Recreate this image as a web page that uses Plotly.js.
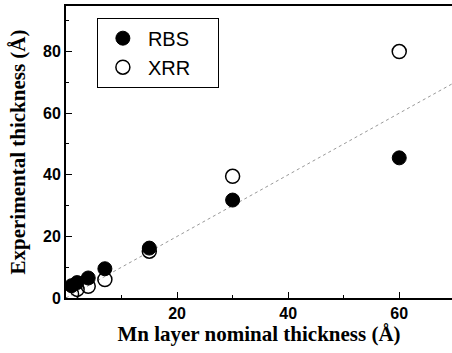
<!DOCTYPE html>
<html>
<head>
<meta charset="utf-8">
<script src="https://cdn.plot.ly/plotly-3.0.1.min.js"></script>
<style>
html, body { margin: 0; padding: 0; background: #fff; overflow: hidden; }
#chart { width: 452px; height: 353px; }
</style>
</head>
<body>
<div id="chart"></div>
<script>
// Data
const nominal = [1, 2, 4, 7, 15, 30, 60];
const rbs = [4.0, 5.0, 6.5, 9.5, 16.2, 31.8, 45.5];
const xrr = [1.3, 2.8, 3.8, 6.0, 15.2, 39.5, 80.0];
const guideX = [0, 70];
const guideY = [0, 70];
const seriesNames = ['RBS', 'XRR'];

const traces = [
  {
    x: guideX, y: guideY, mode: 'lines', showlegend: false,
    line: { color: '#999', width: 1, dash: 'dot' }, hoverinfo: 'skip'
  },
  {
    x: nominal, y: rbs, mode: 'markers', name: seriesNames[0] + '\u00a0\u00a0\u00a0\u00a0', legendgroup: 'a',
    marker: { symbol: 'circle', size: 14, color: '#000', line: { color: '#000', width: 1 } }
  },
  {
    x: nominal, y: xrr, mode: 'markers', name: seriesNames[1] + '\u00a0\u00a0\u00a0\u00a0', legendgroup: 'b',
    marker: { symbol: 'circle-open', size: 14, color: '#000', line: { color: '#000', width: 1.5 } }
  }
];

const tickFont = { family: 'Liberation Sans, Arial, sans-serif', size: 16, color: '#000', weight: 'bold' };
const titleFont = { family: 'Liberation Serif, Times New Roman, serif', size: 21, color: '#000', weight: 'bold' };

const layout = {
  width: 452, height: 353,
  margin: { l: 66, r: 0, t: 6, b: 55 },
  paper_bgcolor: '#fff', plot_bgcolor: '#fff',
  showlegend: true,
  legend: {
    x: 0.08, y: 0.96, xanchor: 'left', yanchor: 'top',
    bordercolor: '#000', borderwidth: 1, bgcolor: '#fff',
    font: { family: 'Liberation Sans, Arial, sans-serif', size: 20, color: '#000' },
    itemwidth: 40, tracegroupgap: 0
  },
  xaxis: {
    range: [0, 69.5], showgrid: false, zeroline: false,
    showline: true, linecolor: '#000', linewidth: 2, mirror: true,
    ticks: 'inside', ticklen: 6, tickwidth: 1, tickcolor: '#000',
    tickvals: [20, 40, 60], ticktext: ['20', '40', '60'],
    minor: { tickvals: [10, 30, 50], ticks: 'inside', ticklen: 3, tickcolor: '#000' },
    tickfont: tickFont,
    title: { text: 'Mn layer nominal thickness (Å)', font: titleFont, standoff: 3 }
  },
  yaxis: {
    range: [0, 94.8], showgrid: false, zeroline: false,
    showline: true, linecolor: '#000', linewidth: 2, mirror: false,
    ticks: 'inside', ticklen: 6, tickwidth: 1, tickcolor: '#000',
    tickvals: [0, 20, 40, 60, 80], ticktext: ['0', '20', '40', '60', '80'],
    minor: { tickvals: [10, 30, 50, 70, 90], ticks: 'inside', ticklen: 3, tickcolor: '#000' },
    tickfont: tickFont,
    title: { text: 'Experimental thickness (Å)', font: titleFont, standoff: 12 }
  }
};

Plotly.newPlot('chart', traces, layout, { displayModeBar: false, staticPlot: true });
</script>
</body>
</html>
